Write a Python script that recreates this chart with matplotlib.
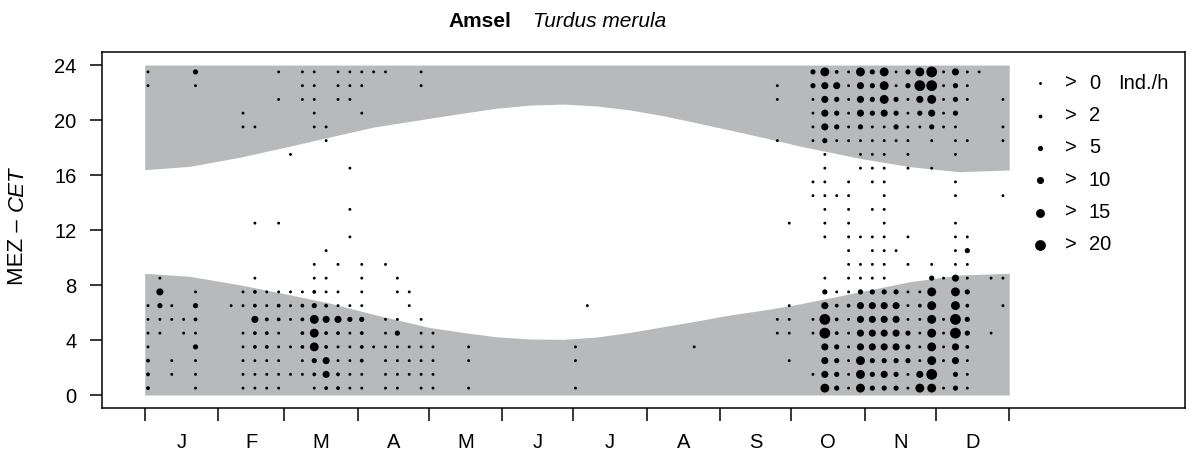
import matplotlib
matplotlib.use('Agg')
import matplotlib.pyplot as plt
import numpy as np

plt.rcParams['font.family'] = ['Liberation Sans', 'DejaVu Sans']

# month boundaries (day of year) and labels
month_starts = [0, 31, 59, 90, 120, 151, 181, 212, 243, 273, 304, 334, 365]
month_labels = ['J', 'F', 'M', 'A', 'M', 'J', 'J', 'A', 'S', 'O', 'N', 'D']

# night limits (day of year -> hour CET)
night_day = [0, 19, 40, 61, 78, 97, 120, 134, 148, 163, 177, 191, 205, 219,
             233, 247, 264, 277, 302, 323, 344, 365]
sunset_h = [16.39, 16.63, 17.29, 18.09, 18.76, 19.5, 20.12, 20.49, 20.85, 21.09, 21.16,
            21.02, 20.73, 20.31, 19.8, 19.27, 18.62, 18.09, 17.21, 16.61, 16.24, 16.37]
sunrise_h = [8.85, 8.63, 8.02, 7.3, 6.69, 5.85, 4.92, 4.56, 4.24, 4.07, 4.05,
             4.22, 4.56, 4.97, 5.38, 5.82, 6.25, 6.64, 7.51, 8.24, 8.73, 8.85]

# size classes of Ind./h
class_labels = ['0', '2', '5', '10', '15', '20']

# per hour (0..23): "pentad:class" entries, pentad 0..72
dots_by_hour = [
    "0:2 4:1 8:1 9:1 10:1 11:1 14:1 15:2 16:2 17:1 18:1 20:1 21:1 23:1 24:1 27:1 36:1 57:5 58:3 59:1 60:5 61:3 62:3 63:3 64:1 65:5 66:5 67:1 68:3 69:1",
    "0:2 2:1 4:1 8:1 9:1 10:1 11:1 12:1 13:1 14:2 15:4 16:2 17:1 18:1 20:1 21:1 22:1 23:1 24:1 56:1 57:4 58:3 59:1 60:5 61:3 62:4 63:3 64:1 65:4 66:6 68:3 69:1",
    "0:2 2:1 4:1 8:1 9:1 10:1 11:1 13:1 14:3 15:4 16:1 17:1 18:2 20:1 21:1 22:1 23:1 24:1 27:1 36:1 54:1 57:4 58:3 59:1 60:5 61:3 62:3 63:3 64:3 65:1 66:5 67:1 68:4 69:1",
    "0:1 4:3 8:1 9:2 10:2 11:1 12:1 13:2 14:5 15:2 16:1 17:1 18:2 19:1 20:1 21:1 22:1 23:1 24:1 27:1 36:1 46:1 57:4 58:3 59:1 60:4 61:4 62:4 63:4 64:3 65:1 66:5 67:1 68:4 69:2",
    "0:1 1:1 3:1 4:1 8:1 9:2 10:2 11:1 13:2 14:5 15:2 16:2 17:1 18:2 20:1 21:3 23:1 24:1 53:1 54:1 56:1 57:6 58:2 59:1 60:4 61:4 62:4 63:4 64:3 65:1 66:5 67:1 68:6 69:3 71:1",
    "0:1 1:1 2:1 3:1 4:2 9:4 10:2 11:2 12:1 13:2 14:5 15:4 16:4 17:3 18:3 20:1 21:1 23:1 53:1 54:1 56:1 57:6 58:2 59:1 60:4 61:4 62:4 63:4 64:1 65:1 66:5 67:1 68:6 69:3",
    "0:1 1:3 2:1 4:3 7:1 8:1 9:2 10:1 11:2 12:1 13:2 14:3 15:2 16:1 17:1 18:1 22:1 37:1 54:1 57:4 58:2 59:2 60:4 61:4 62:4 63:4 64:1 65:2 66:5 68:5 69:2 72:1",
    "1:4 4:1 8:1 9:2 10:1 11:1 12:1 13:1 14:2 15:1 16:1 18:1 21:1 22:1 57:3 58:1 59:1 60:3 61:3 62:3 63:3 64:1 65:1 66:5 68:5 69:3",
    "1:1 9:1 14:1 15:1 18:1 21:1 57:1 59:1 60:1 61:1 62:1 66:3 67:1 68:4 69:1 71:1 72:1",
    "14:1 16:1 18:1 20:1 59:1 60:1 61:1 62:1 64:1 66:1 68:1 69:1",
    "15:1 59:1 61:1 62:1 63:1 68:1 69:3",
    "17:1 57:1 59:1 60:1 61:1 62:1 64:1 68:1 69:1",
    "9:1 11:1 54:1 57:1 59:1 62:1 68:1",
    "17:1 57:1 59:1 61:1 62:1",
    "56:1 57:1 58:1 59:1 62:1 68:1 72:1",
    "56:1 57:1 59:1 61:1 62:1 68:1",
    "17:1 57:1 60:1 61:1 62:1 64:1 66:1",
    "12:1 57:1 60:1 61:1 62:1 64:1 68:1",
    "15:1 53:1 56:1 57:3 58:1 59:1 60:1 61:1 62:1 63:1 64:1 66:1 68:1 69:1 72:1",
    "8:1 9:1 14:1 15:1 56:1 57:4 58:3 59:1 60:3 61:1 62:1 63:3 64:1 65:1 66:3 67:1 68:1 72:1",
    "8:1 14:1 18:1 56:1 57:4 58:3 59:1 60:4 61:3 62:4 63:3 64:1 65:3 66:4 67:1 68:3",
    "11:1 13:1 14:1 16:1 17:1 53:1 56:1 57:4 58:3 59:1 60:4 61:3 62:5 63:3 64:1 65:4 66:5 67:1 68:3 69:1 72:1",
    "0:1 4:1 13:1 14:1 16:1 17:1 18:1 23:1 53:1 56:3 57:4 58:4 59:1 60:4 61:3 62:5 63:1 64:3 65:6 66:6 67:1 68:3 69:1",
    "0:1 4:3 11:1 13:1 14:1 16:1 17:1 18:1 19:1 20:1 23:1 56:3 57:5 58:2 59:1 60:5 61:3 62:5 63:1 64:3 65:5 66:6 67:1 68:4 69:1 70:1",
]

pentad, hour, cls = [], [], []
for h, line in enumerate(dots_by_hour):
    for item in line.split():
        p, c = item.split(':')
        pentad.append(int(p))
        hour.append(h + 0.5)
        cls.append(int(c))
pentad = np.array(pentad)
hour = np.array(hour)
cls = np.array(cls)

# marker diameters in pixels per class (dpi 100 -> 0.72 pt/px)
diam_px = np.array([2.9, 3.8, 5.2, 7.1, 8.9, 10.8])
sizes = (diam_px * 0.72) ** 2

W, H = 1196, 457
fig = plt.figure(figsize=(W / 100, H / 100), dpi=100)
ax = fig.add_axes([101.7 / W, 1 - 408.3 / H, (1185 - 101.7) / W, (408.3 - 51.7) / H])

grey = '#b8b9bb'
ax.fill_between(night_day, 0, sunrise_h, color=grey, lw=0)
ax.fill_between(night_day, sunset_h, 24, color=grey, lw=0)

xday = 1.4 + pentad * 5.013
ax.scatter(xday, hour, s=sizes[cls - 1], c='black', lw=0, zorder=3)

ax.set_xlim(-18.16, 439.2)
ax.set_ylim(-0.967, 24.97)

ax.set_xticks(month_starts)
ax.set_xticklabels([])
mids = [(month_starts[i] + month_starts[i + 1]) / 2 for i in range(12)]
ax.set_xticks(mids, minor=True)
ax.set_xticklabels(month_labels, minor=True, fontsize=14.5)
ax.tick_params(axis='x', which='major', length=9.5, width=1.1, direction='out')
ax.tick_params(axis='x', which='minor', length=0, pad=18)

ax.set_yticks(range(0, 25, 4))
ax.tick_params(axis='y', length=9, width=1.1, direction='out', labelsize=14.5, pad=9)

for sp in ax.spines.values():
    sp.set_linewidth(1.1)

# legend
lx = (1040 - 101.7) / (1185 - 101.7)
for k in range(6):
    py = 83.3 + 32.3 * k
    ly = (408.3 - py) / (408.3 - 51.7)
    ax.scatter([lx], [ly], s=sizes[k], c='black', lw=0, transform=ax.transAxes, clip_on=False)
    ax.text((1065 - 101.7) / (1185 - 101.7), ly, '>', transform=ax.transAxes, fontsize=14.5,
            va='center', ha='left')
    ax.text((1089 - 101.7) / (1185 - 101.7), ly, class_labels[k], transform=ax.transAxes,
            fontsize=14.5, va='center', ha='left')
ax.text((1118 - 101.7) / (1185 - 101.7), (408.3 - 83.3) / (408.3 - 51.7), 'Ind./h',
        transform=ax.transAxes, fontsize=14.5, va='center', ha='left')

# title
fig.text(511.7 / W, 1 - 26.7 / H, 'Amsel', fontsize=15, fontweight='bold', ha='right', va='baseline')
fig.text(533.3 / W, 1 - 26.7 / H, 'Turdus merula', fontsize=15, fontstyle='italic', ha='left', va='baseline')

# y label
fig.text(17.5 / W, 1 - 285 / H, 'MEZ \u2013', fontsize=16, rotation=90, ha='center', va='bottom')
fig.text(17.5 / W, 1 - 166.7 / H, 'CET', fontsize=16, rotation=90, fontstyle='italic', ha='center', va='top')

fig.savefig('out.png', dpi=100)
